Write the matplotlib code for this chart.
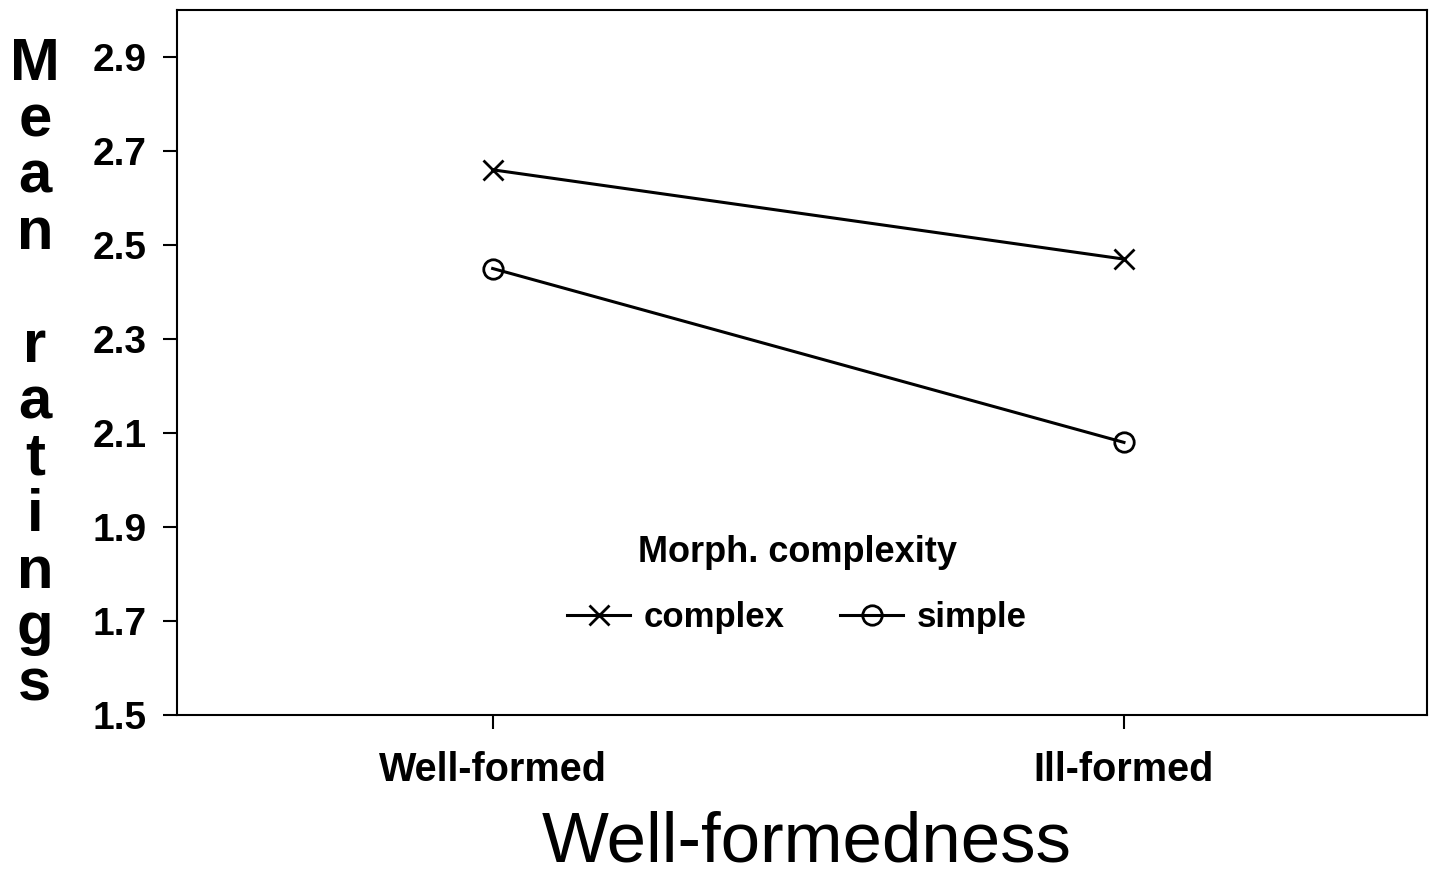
import matplotlib
matplotlib.use("Agg")
import matplotlib.pyplot as plt

conditions = ["Well-formed", "Ill-formed"]
complex_means = [2.66, 2.47]
simple_means = [2.45, 2.08]
yticks = [1.5, 1.7, 1.9, 2.1, 2.3, 2.5, 2.7, 2.9]

plt.rcParams['font.family'] = ['Liberation Sans', 'DejaVu Sans']

fig = plt.figure(figsize=(14.4, 8.75), dpi=100)
ax = fig.add_axes([177/1440, 1 - 715/875, 1250/1440, 705/875])

x = list(range(len(conditions)))
ax.plot(x, complex_means, color='black', linewidth=2.2, marker='x',
        markersize=14, markeredgewidth=2, label='complex')
ax.plot(x, simple_means, color='black', linewidth=2.2, marker='o',
        markersize=14, markeredgewidth=2, fillstyle='none', label='simple')

ax.set_xlim(-0.5, 1.48)
ax.set_ylim(1.5, 3.0)
ax.set_xticks(x)
ax.set_xticklabels(conditions, fontsize=28.5, fontweight='bold')
ax.set_yticks(yticks)
ax.set_yticklabels([f"{v:.1f}" for v in yticks], fontsize=28, fontweight='bold')
ax.tick_params(axis='both', direction='out', length=10, width=1.5, color='black')
ax.tick_params(axis='y', pad=12)
ax.tick_params(axis='x', pad=16)
for s in ax.spines.values():
    s.set_linewidth(1.5)

# x axis title placed near the bottom edge, as in the original
fig.text(807/1440, 1 - 862/875, "Well-formedness", fontsize=51,
         ha='center', va='baseline')

# stacked vertical y label
ylab = "Mean ratings"
for i, ch in enumerate(ylab):
    if ch == ' ':
        continue
    fig.text(35/1440, 1 - (80 + i * 56.4)/875, ch, fontsize=43,
             fontweight='bold', ha='center', va='baseline')

leg = ax.legend(loc='center', bbox_to_anchor=(0.496, 0.185), ncol=2,
                frameon=False, title="Morph. complexity", fontsize=25,
                title_fontproperties={'size': 26, 'weight': 'bold'},
                handlelength=1.8, columnspacing=1.6, handletextpad=0.4)
for t in leg.get_texts():
    t.set_fontweight('bold')
leg._legend_box.sep = 22

fig.savefig("out.png", dpi=100)
